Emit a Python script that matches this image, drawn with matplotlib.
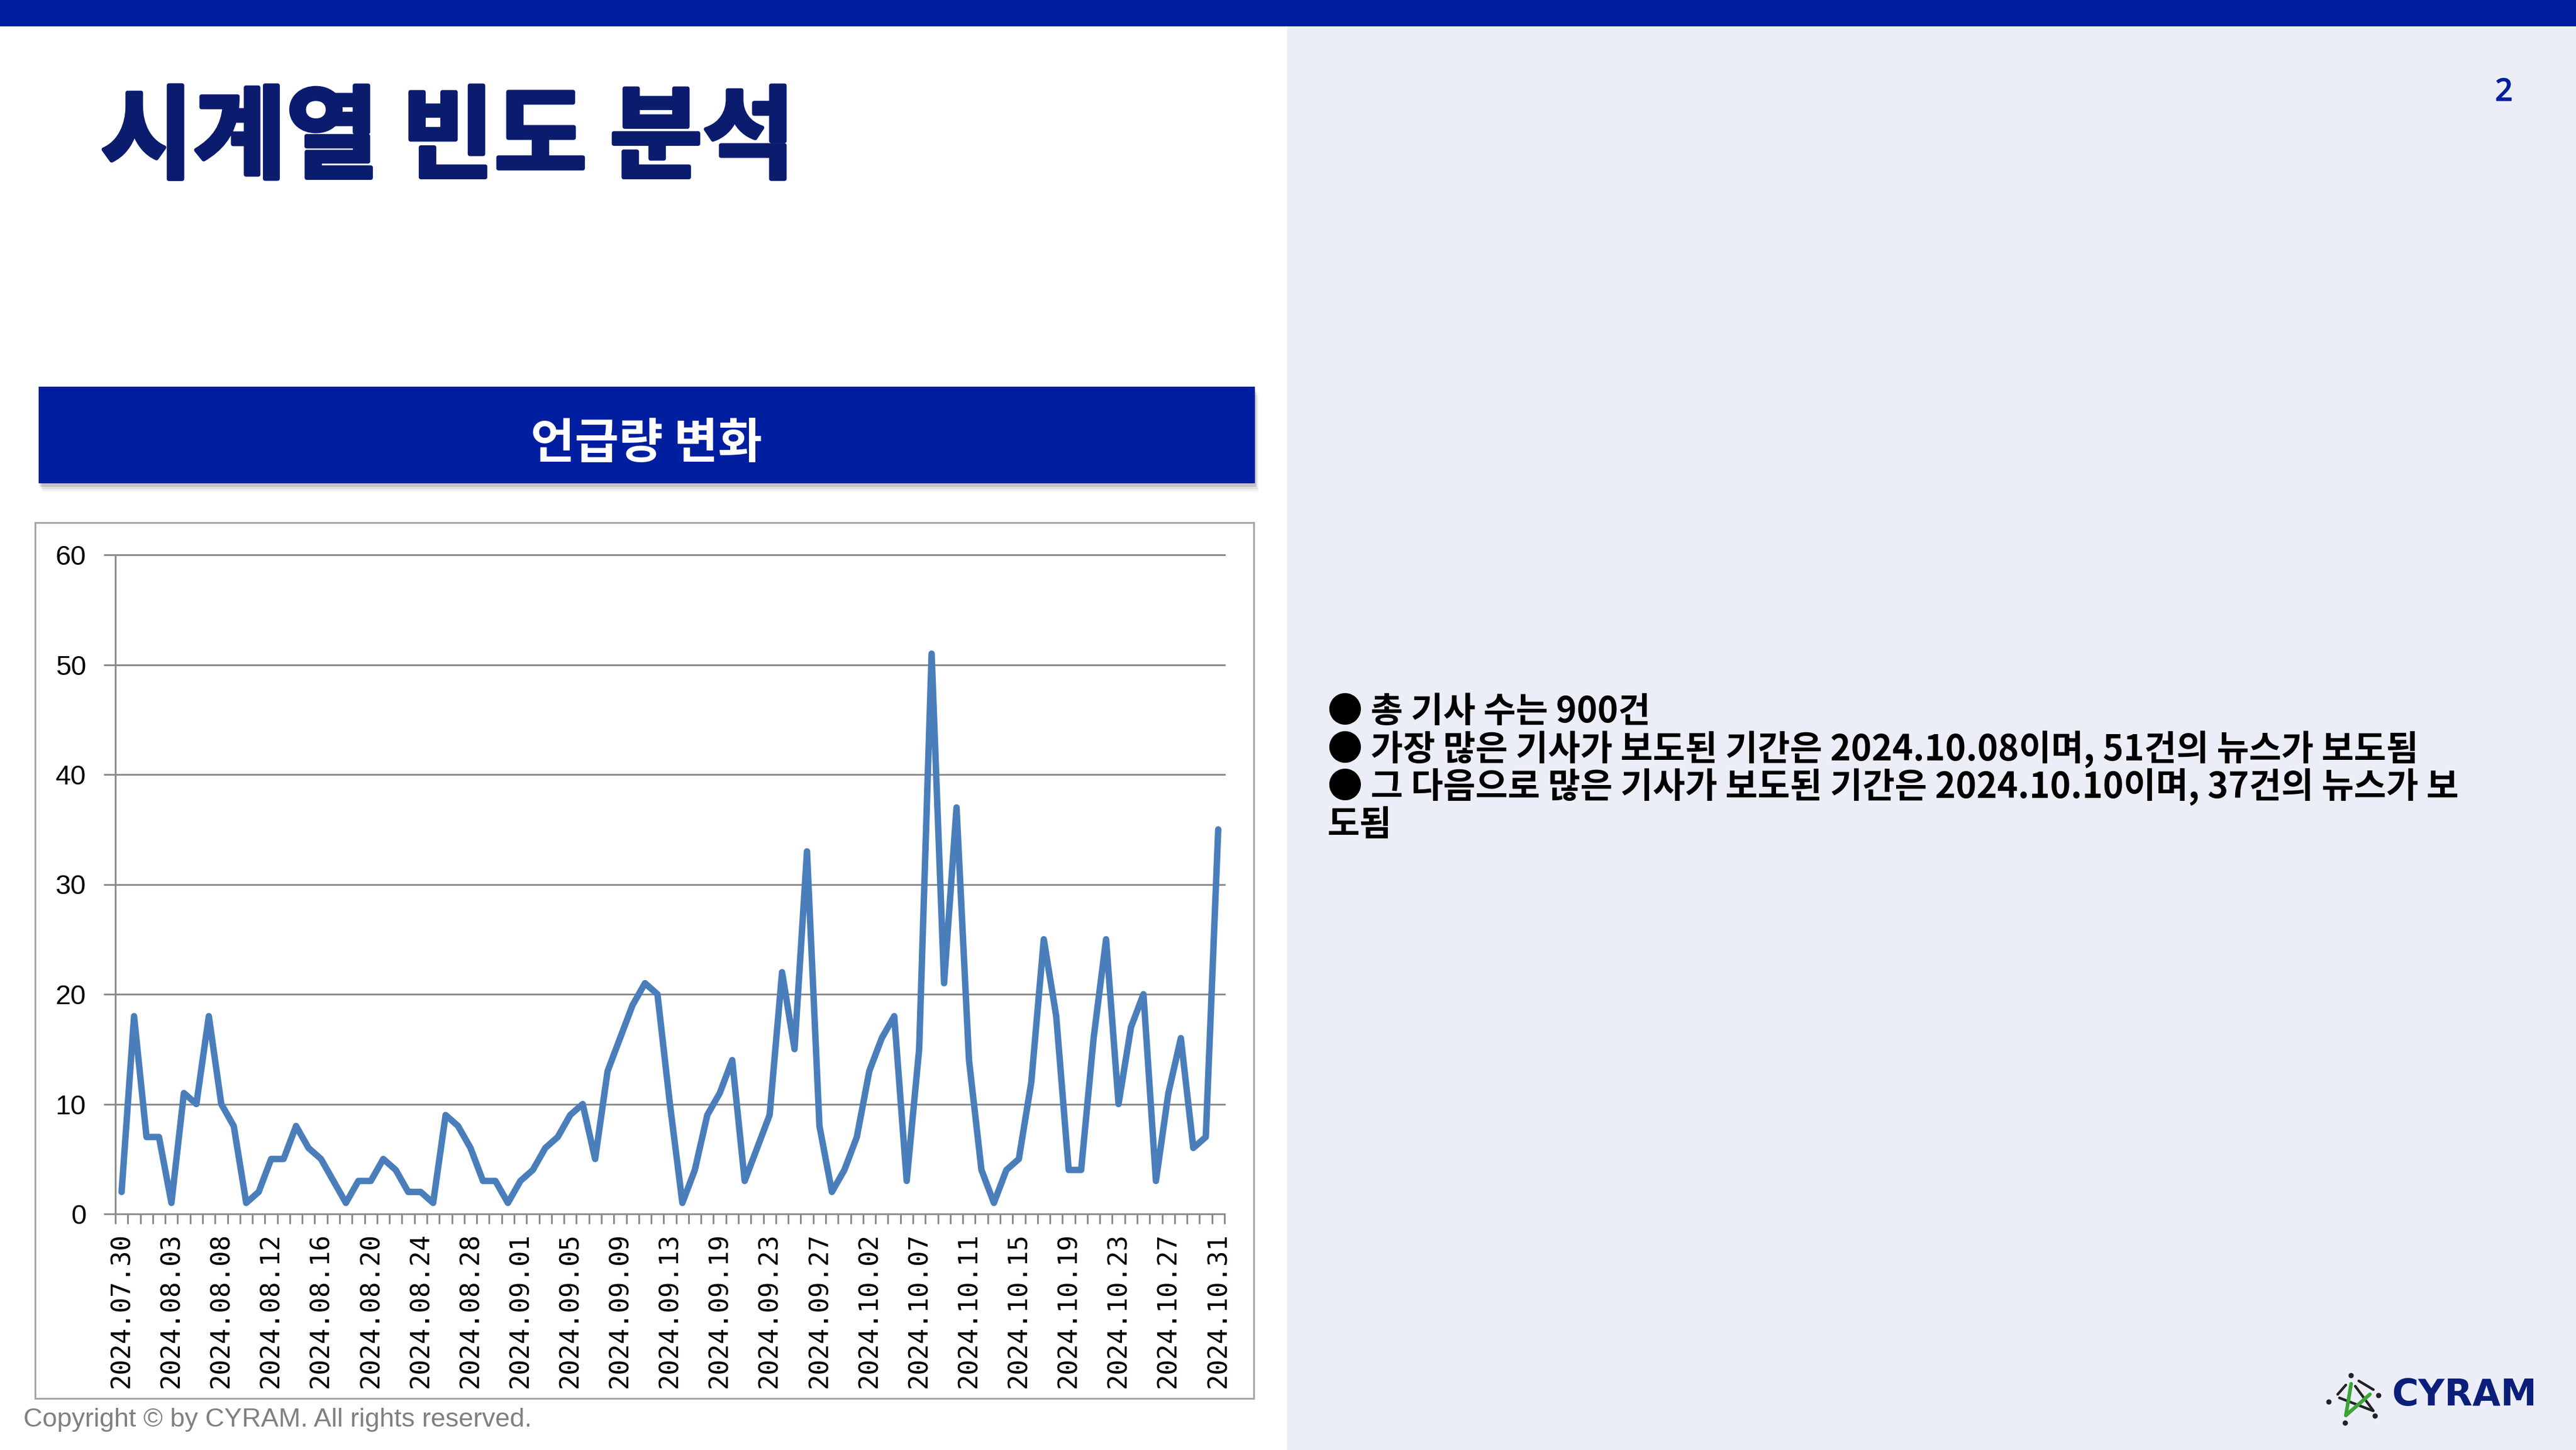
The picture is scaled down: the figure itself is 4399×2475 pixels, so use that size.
import matplotlib
matplotlib.use("Agg")
import matplotlib.pyplot as plt
from matplotlib import patches, patheffects
import numpy as np

W, H = 4399, 2475

# daily article counts (only dates that had articles)
dates = [
    "2024.07.30", "2024.07.31", "2024.08.01", "2024.08.02", "2024.08.03",
    "2024.08.05", "2024.08.06", "2024.08.07", "2024.08.08",
    "2024.08.09", "2024.08.10", "2024.08.11", "2024.08.12",
    "2024.08.13", "2024.08.14", "2024.08.15", "2024.08.16",
    "2024.08.17", "2024.08.18", "2024.08.19", "2024.08.20",
    "2024.08.21", "2024.08.22", "2024.08.23", "2024.08.24",
    "2024.08.25", "2024.08.26", "2024.08.27", "2024.08.28",
    "2024.08.29", "2024.08.30", "2024.08.31", "2024.09.01",
    "2024.09.02", "2024.09.03", "2024.09.04", "2024.09.05",
    "2024.09.06", "2024.09.07", "2024.09.08", "2024.09.09",
    "2024.09.10", "2024.09.11", "2024.09.12", "2024.09.13",
    "2024.09.14", "2024.09.16", "2024.09.18", "2024.09.19",
    "2024.09.20", "2024.09.21", "2024.09.22", "2024.09.23",
    "2024.09.24", "2024.09.25", "2024.09.26", "2024.09.27",
    "2024.09.28", "2024.09.30", "2024.10.01", "2024.10.02",
    "2024.10.03", "2024.10.04", "2024.10.05", "2024.10.07",
    "2024.10.08", "2024.10.09", "2024.10.10", "2024.10.11",
    "2024.10.12", "2024.10.13", "2024.10.14", "2024.10.15",
    "2024.10.16", "2024.10.17", "2024.10.18", "2024.10.19",
    "2024.10.20", "2024.10.21", "2024.10.22", "2024.10.23",
    "2024.10.24", "2024.10.25", "2024.10.26", "2024.10.27",
    "2024.10.28", "2024.10.29", "2024.10.30", "2024.10.31",
]
counts = [
    2, 18, 7, 7, 1, 11, 10, 18, 10, 8, 1, 2, 5, 5, 8, 6, 5, 3, 1, 3,
    3, 5, 4, 2, 2, 1, 9, 8, 6, 3, 3, 1, 3, 4, 6, 7, 9, 10, 5, 13,
    16, 19, 21, 20, 10, 1, 4, 9, 11, 14, 3, 6, 9, 22, 15, 33, 8, 2, 4, 7,
    13, 16, 18, 3, 15, 51, 21, 37, 14, 4, 1, 4, 5, 12, 25, 18, 4, 4, 16, 25,
    10, 17, 20, 3, 11, 16, 6, 7, 35,
]
y_ticks = [0, 10, 20, 30, 40, 50, 60]
label_step = 4

title = "시계열 빈도 분석"
chart_title = "언급량 변화"
page_no = "2"
summary_lines = [
    "● 총 기사 수는 900건",
    "● 가장 많은 기사가 보도된 기간은 2024.10.08이며, 51건의 뉴스가 보도됨",
    "● 그 다음으로 많은 기사가 보도된 기간은 2024.10.10이며, 37건의 뉴스가 보",
    "도됨",
]
copyright_text = "Copyright © by CYRAM. All rights reserved."

NAVY = "#001EA0"
TITLE_NAVY = "#0B1C6F"
PANEL = "#ECEEF7"
GRID = "#8C8C8C"
LINE = "#4A7EBB"
KR = ["Noto Sans CJK KR", "DejaVu Sans"]


def px(v):
    """pixels -> points at dpi 100"""
    return v * 0.72


fig = plt.figure(figsize=(W / 100, H / 100), dpi=100)
fig.patch.set_facecolor("white")

# page canvas in pixel coordinates
bg = fig.add_axes([0, 0, 1, 1])
bg.set_xlim(0, W)
bg.set_ylim(H, 0)
bg.axis("off")

bg.add_patch(patches.Rectangle((0, 0), W, 45, color=NAVY, lw=0))
bg.add_patch(patches.Rectangle((2198, 45), W - 2198, H - 45, color=PANEL, lw=0))

bg.text(172, 290, title, family=KR, weight="bold", fontsize=px(172),
        color=TITLE_NAVY, va="baseline", ha="left",
        path_effects=[patheffects.withStroke(linewidth=px(7), foreground=TITLE_NAVY)])
bg.text(4276, 158, page_no, family=["Noto Sans", "DejaVu Sans"], weight="bold",
        fontsize=px(52), color=NAVY, ha="center", va="center",
        path_effects=[patheffects.withStroke(linewidth=px(2), foreground=NAVY)])

# chart header with soft shadow
for off, a in [(14, 0.05), (10, 0.08), (6, 0.12)]:
    bg.add_patch(patches.Rectangle((66 + off * 0.4, 660 + off), 2077, 165,
                                   color="black", alpha=a, lw=0))
bg.add_patch(patches.Rectangle((66, 660), 2077, 165, color=NAVY, lw=0))
bg.text(1104, 758, chart_title, family=KR, weight="bold", fontsize=px(82),
        color="white", ha="center", va="center")

# chart frame
bg.add_patch(patches.Rectangle((60, 892), 2081, 1495, facecolor="white",
                               edgecolor="#A6A6A6", lw=2.2))

# summary bullets
for i, line in enumerate(summary_lines):
    bg.text(2267, 1215 + i * 64.5, line, family=KR, weight="bold",
            fontsize=px(60), color="black", ha="left", va="center")

bg.text(40, 2424, copyright_text, family=["Liberation Sans", "DejaVu Sans"],
        fontsize=px(45), color="#808080", ha="left", va="center")

# CYRAM logo
dots = [(4015, 2348), (3977, 2393), (4062, 2382), (4056, 2417), (4005, 2429)]
for dx, dy in dots:
    bg.add_patch(patches.Circle((dx, dy), 4.5, color="#222222", lw=0))
for (x0, y0), (x1, y1) in [((3992, 2380), (4006, 2364)),
                            ((4028, 2357), (4053, 2372)),
                            ((3995, 2386), (4052, 2408)),
                            ((4022, 2366), (4053, 2408))]:
    bg.plot([x0, x1], [y0, y1], color="#222222", lw=3.2, solid_capstyle="round")
bg.plot([4015, 4006, 4047], [2362, 2416, 2380], color="#3BA535", lw=4.5,
        solid_capstyle="round", solid_joinstyle="round")
bg.text(4085, 2382, "CYRAM", family="DejaVu Sans", weight="bold",
        fontsize=px(62), color="#0B1F7A", ha="left", va="center")

# line chart
ax = fig.add_axes([197 / W, 1 - 2072 / H, 1894 / W, 1125 / H])
ax.set_facecolor("none")
xs = np.arange(len(counts))
ax.plot(xs, counts, color=LINE, lw=px(11), solid_joinstyle="round",
        solid_capstyle="round", zorder=3)
ax.set_xlim(-0.5, len(counts) - 0.5)
ax.set_ylim(y_ticks[0], y_ticks[-1])

ax.set_yticks(y_ticks)
ax.set_yticklabels([str(v) for v in y_ticks], family="Liberation Sans")
ax.yaxis.grid(True, color=GRID, lw=px(3))
for gl in ax.get_ygridlines():
    gl.set_clip_on(False)
ax.set_axisbelow(True)

ax.set_xticks(xs[::label_step])
ax.set_xticklabels(dates[::label_step], rotation=90, family="DejaVu Sans Mono")
ax.set_xticks(np.arange(-0.5, len(counts)), minor=True)

for side in ["top", "right"]:
    ax.spines[side].set_visible(False)
for side in ["left", "bottom"]:
    ax.spines[side].set_color(GRID)
    ax.spines[side].set_linewidth(px(3))

ax.tick_params(axis="y", length=px(20), width=px(3), color=GRID,
               pad=px(30), labelsize=px(47), labelcolor="black")
ax.tick_params(axis="x", which="major", length=0, pad=px(32),
               labelsize=px(44), labelcolor="black")
ax.tick_params(axis="x", which="minor", length=px(17), width=px(3), color=GRID)

fig.savefig("out.png", dpi=100)
